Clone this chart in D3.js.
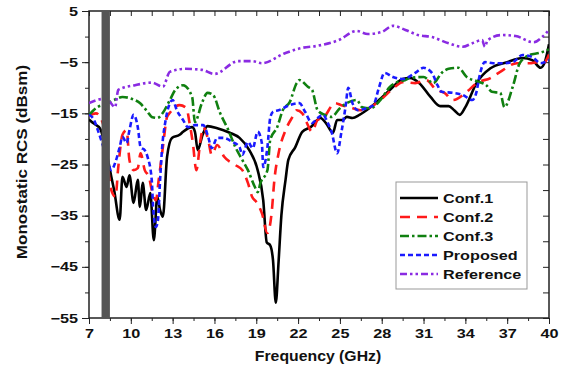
<!DOCTYPE html>
<html>
<head>
<meta charset="utf-8">
<script src="https://cdn.jsdelivr.net/npm/d3@7"></script>
<style>
    html, body { margin: 0; padding: 0; background: #fff; }
    svg { display: block; font-family: "Liberation Sans", Arial, sans-serif; font-weight: bold; }
    .axis path, .axis line { stroke: #222; }
    .axis text { fill: #111; font-size: 12.5px; font-weight: bold; }
</style>
</head>
<body>
<svg id="chart" width="567" height="370"></svg>
<script>
// Monostatic RCS against frequency, one series per configuration
var conf1Freq = [7.0, 7.3, 7.8, 8.2, 8.6, 8.8, 9.2, 9.4, 9.7, 9.9, 10.2, 10.5, 10.65, 10.85, 11.1, 11.4, 11.65, 11.9, 12.1, 12.3, 12.6, 12.95, 13.5, 13.75, 14.4, 14.6, 14.8, 15.15, 15.5, 16.2, 17.1, 17.8, 18.5, 19.1, 19.5, 19.75, 20.0, 20.2, 20.4, 20.6, 20.8, 21.1, 21.3, 21.8, 22.3, 22.9, 23.6, 24.0, 24.5, 24.8, 25.2, 25.5, 25.9, 26.4, 27.1, 27.8, 28.6, 29.5, 30.0, 30.7, 31.5, 32.2, 32.8, 33.2, 33.6, 34.0, 34.8, 35.8, 37.0, 38.1, 38.8, 39.4, 39.7, 40.0];
var conf1Rcs = [-16.2, -16.9, -18.0, -22.0, -27.4, -30.0, -35.8, -27.4, -29.4, -27.1, -32.5, -28.0, -33.3, -28.6, -33.9, -30.6, -39.8, -31.3, -33.9, -35.2, -23.5, -19.8, -19.2, -18.6, -17.7, -18.6, -22.2, -19.2, -17.5, -17.9, -18.8, -19.8, -22.2, -26.1, -32.0, -40.2, -40.8, -43.7, -52.0, -44.0, -35.0, -28.0, -24.1, -21.6, -18.6, -17.7, -15.9, -16.9, -18.8, -16.3, -16.3, -15.7, -15.9, -15.3, -14.0, -12.4, -10.4, -8.3, -8.1, -9.1, -11.8, -13.6, -13.6, -14.4, -15.3, -13.8, -9.1, -6.2, -5.0, -4.2, -4.6, -6.1, -5.0, -1.5];

var conf2Freq = [7.0, 7.5, 8.0, 8.6, 8.9, 9.1, 9.4, 9.7, 9.9, 10.2, 10.5, 10.7, 11.0, 11.3, 11.5, 11.8, 12.0, 12.3, 12.6, 12.8, 13.5, 14.0, 14.2, 14.45, 14.7, 15.0, 15.2, 15.55, 15.8, 16.2, 16.7, 17.5, 18.0, 18.4, 18.7, 19.0, 19.4, 19.8, 20.1, 20.3, 20.6, 21.1, 21.6, 21.9, 22.3, 22.6, 23.0, 23.4, 23.8, 24.65, 25.1, 25.7, 26.5, 27.2, 27.9, 28.8, 29.5, 30.4, 31.2, 31.9, 32.5, 33.1, 34.1, 34.8, 35.8, 36.5, 37.7, 38.6, 39.2, 39.6, 40.0];
var conf2Rcs = [-15.5, -15.0, -17.0, -30.0, -31.3, -25.5, -19.2, -18.3, -24.1, -26.1, -25.7, -22.8, -26.1, -27.4, -30.0, -32.0, -28.0, -21.6, -15.7, -14.9, -13.4, -14.0, -16.7, -20.8, -26.1, -20.2, -17.7, -20.2, -23.1, -21.2, -23.5, -25.1, -26.1, -28.6, -31.3, -32.3, -34.5, -38.4, -34.5, -28.0, -22.8, -18.3, -15.7, -14.4, -15.0, -16.7, -18.6, -16.3, -15.9, -13.0, -13.4, -13.8, -14.4, -13.8, -12.4, -10.2, -8.9, -9.1, -8.5, -10.4, -11.0, -12.4, -10.8, -9.1, -8.1, -6.9, -5.2, -5.2, -5.0, -5.2, -3.5];

var conf3Freq = [7.0, 7.6, 8.2, 8.8, 9.4, 10.1, 10.65, 11.2, 11.5, 11.9, 12.3, 12.8, 13.2, 13.75, 14.4, 14.6, 15.1, 15.5, 15.9, 16.4, 17.0, 17.5, 18.0, 18.4, 18.9, 19.1, 19.3, 19.8, 20.0, 20.5, 20.9, 21.4, 21.9, 22.1, 22.7, 23.0, 23.4, 23.9, 24.4, 25.0, 25.5, 26.2, 26.6, 27.2, 27.9, 28.6, 29.1, 29.7, 30.0, 31.0, 31.7, 32.3, 32.8, 33.5, 34.1, 34.8, 35.5, 35.9, 36.5, 36.8, 37.4, 37.9, 38.6, 39.3, 40.0];
var conf3Rcs = [-15.3, -13.8, -13.2, -12.4, -11.8, -12.2, -13.0, -14.7, -15.7, -15.9, -14.9, -12.4, -10.4, -9.5, -11.8, -16.7, -13.0, -11.0, -11.4, -14.9, -18.3, -21.6, -24.1, -26.1, -29.4, -30.4, -28.6, -26.1, -20.2, -17.7, -14.4, -12.8, -9.1, -8.5, -9.8, -10.4, -14.4, -15.3, -15.7, -14.0, -13.0, -12.4, -13.8, -14.0, -12.4, -9.8, -8.9, -8.5, -8.1, -7.9, -9.1, -7.1, -6.3, -6.1, -7.9, -8.7, -9.5, -10.8, -11.0, -13.8, -9.8, -5.2, -3.6, -3.2, -2.5];

var proposedFreq = [7.0, 7.3, 7.7, 8.2, 8.6, 8.9, 9.2, 9.4, 9.7, 9.9, 10.2, 10.5, 10.7, 11.0, 11.2, 11.5, 11.6, 11.8, 11.95, 12.1, 12.25, 12.5, 12.7, 13.0, 13.3, 13.75, 14.1, 14.6, 15.2, 15.55, 15.8, 16.2, 16.6, 17.3, 17.8, 18.0, 18.4, 18.75, 19.1, 19.4, 19.5, 19.8, 20.0, 20.2, 20.6, 21.4, 22.1, 22.5, 23.0, 23.4, 23.8, 24.1, 24.4, 24.8, 25.1, 25.4, 25.6, 25.9, 26.3, 26.9, 27.4, 27.8, 28.2, 28.8, 29.5, 30.4, 31.0, 31.6, 32.0, 32.3, 33.1, 33.8, 34.5, 34.8, 35.0, 35.4, 36.0, 36.7, 37.4, 38.1, 38.8, 39.4, 40.0];
var proposedRcs = [-15.3, -16.0, -18.8, -23.0, -26.1, -24.5, -21.6, -19.6, -20.8, -18.3, -15.3, -17.7, -21.6, -22.2, -23.5, -28.0, -33.3, -37.2, -35.8, -28.0, -21.6, -16.3, -13.8, -12.4, -14.4, -16.3, -17.7, -17.3, -17.3, -19.6, -21.8, -19.8, -19.8, -20.6, -21.6, -23.1, -20.6, -21.8, -18.6, -20.8, -25.5, -21.6, -15.9, -14.7, -14.4, -13.4, -13.0, -14.7, -16.9, -15.9, -15.3, -16.7, -18.6, -22.8, -18.8, -13.8, -10.0, -13.0, -14.4, -14.0, -13.4, -10.0, -7.1, -7.9, -8.3, -7.1, -6.1, -7.1, -9.5, -10.8, -11.0, -11.4, -12.4, -10.8, -7.9, -5.0, -5.2, -5.2, -5.0, -3.6, -4.0, -5.2, -4.6];

var referenceFreq = [7.0, 8.0, 8.5, 8.87, 9.1, 10.3, 11.5, 12.3, 12.8, 13.9, 15.1, 16.0, 17.7, 18.7, 19.4, 21.1, 22.3, 23.4, 24.9, 26.2, 27.0, 28.0, 28.8, 29.7, 30.6, 31.6, 32.8, 33.8, 34.5, 35.2, 35.4, 35.6, 36.6, 37.6, 38.9, 39.5, 40.0];
var referenceRcs = [-13.0, -12.2, -12.8, -13.8, -10.4, -9.5, -9.0, -9.8, -6.9, -6.3, -6.5, -7.3, -4.8, -4.8, -5.2, -3.2, -2.2, -1.8, -0.7, 1.1, 0.5, 0.9, 2.1, 1.3, 0.3, -0.1, -1.3, -2.0, -1.3, -0.7, -2.0, -0.7, 0.3, 0.1, -1.1, -0.1, 1.3];

var seriesNames = ["Conf.1", "Conf.2", "Conf.3", "Proposed", "Reference"];
var seriesColors = ["#000000", "#ff1a1a", "#108010", "#1a1aff", "#8a2be2"];
var seriesDashes = [null, "10,7", "9,3,2.5,3", "5,3", "7,3,2.5,3,2.5,3"];

var xTicks = [7, 10, 13, 16, 19, 22, 25, 28, 31, 34, 37, 40];
var yTicks = [5, -5, -15, -25, -35, -45, -55];
var shadedBand = [7.9, 8.5];

var svg = d3.select("#chart");
var margin = { left: 89, right: 18, top: 11, bottom: 52 };
var width = 567 - margin.left - margin.right;
var height = 370 - margin.top - margin.bottom;

var x = d3.scaleLinear().domain([7, 40]).range([0, width]);
var y = d3.scaleLinear().domain([-55, 5]).range([height, 0]);

var g = svg.append("g").attr("transform", "translate(" + margin.left + "," + margin.top + ")");

svg.append("defs").append("clipPath").attr("id", "plot-clip")
    .append("rect").attr("width", width).attr("height", height);

var minorX = d3.range(7, 40.01, 1.5);
var minorY = d3.range(-55, 5.01, 5);

// frame ticks: top and right point inward, all the same length
g.append("g").attr("class", "axis")
    .call(d3.axisTop(x).tickValues(minorX).tickSize(-5).tickFormat(""));
g.append("g").attr("class", "axis")
    .attr("transform", "translate(" + width + ",0)")
    .call(d3.axisRight(y).tickValues(minorY).tickSize(-6).tickFormat(""));

// minor ticks outward on left and bottom
g.append("g").attr("class", "axis")
    .attr("transform", "translate(0," + height + ")")
    .call(d3.axisBottom(x).tickValues(minorX).tickSize(3).tickFormat(""));
g.append("g").attr("class", "axis")
    .call(d3.axisLeft(y).tickValues(minorY).tickSize(4).tickFormat(""));

var xAxis = g.append("g").attr("class", "axis")
    .attr("transform", "translate(0," + height + ")")
    .call(d3.axisBottom(x).tickValues(xTicks).tickSize(6).tickPadding(5).tickFormat(d3.format("d")));
var yAxis = g.append("g").attr("class", "axis")
    .call(d3.axisLeft(y).tickValues(yTicks).tickSize(7).tickPadding(3).tickFormat(d3.format("d")));

// the labels are drawn wide, so stretch them horizontally
xAxis.selectAll("text").attr("transform", "scale(1.3,1)");
yAxis.selectAll("text").attr("transform", "scale(1.3,1)").attr("x", -8.5);

g.selectAll(".axis path.domain").remove();

// plot frame
g.append("rect")
    .attr("width", width).attr("height", height)
    .attr("fill", "none").attr("stroke", "#222").attr("stroke-width", 1.5);

var allSeries = [
    { f: conf1Freq, v: conf1Rcs },
    { f: conf2Freq, v: conf2Rcs },
    { f: conf3Freq, v: conf3Rcs },
    { f: proposedFreq, v: proposedRcs },
    { f: referenceFreq, v: referenceRcs }
].map(function(s, i) {
    return {
        name: seriesNames[i],
        color: seriesColors[i],
        dash: seriesDashes[i],
        points: s.f.map(function(f, j) { return [f, s.v[j]]; })
    };
});

var line = d3.line()
    .x(function(d) { return x(d[0]); })
    .y(function(d) { return y(d[1]); })
    .curve(d3.curveMonotoneX);

g.append("g").attr("clip-path", "url(#plot-clip)")
    .selectAll("path")
    .data(allSeries)
    .enter().append("path")
    .attr("d", function(d) { return line(d.points); })
    .attr("fill", "none")
    .attr("stroke", function(d) { return d.color; })
    .attr("stroke-width", 2.6)
    .attr("stroke-linejoin", "round")
    .attr("stroke-dasharray", function(d) { return d.dash; });

// shaded band drawn over the curves
g.append("rect")
    .attr("x", x(shadedBand[0]))
    .attr("width", x(shadedBand[1]) - x(shadedBand[0]))
    .attr("y", 0).attr("height", height)
    .attr("fill", "#555");

// axis titles
svg.append("text")
    .attr("transform", "translate(318,361) scale(1.13,1)")
    .attr("text-anchor", "middle")
    .attr("font-size", 14)
    .attr("fill", "#111")
    .text("Frequency (GHz)");

svg.append("text")
    .attr("transform", "translate(27,162) rotate(-90) scale(1.22,1)")
    .attr("text-anchor", "middle")
    .attr("font-size", 14)
    .attr("fill", "#111")
    .text("Monostatic RCS (dBsm)");

// legend
var legend = svg.append("g").attr("transform", "translate(396,182)");
legend.append("rect")
    .attr("width", 131).attr("height", 107)
    .attr("fill", "#fff").attr("stroke", "#999").attr("stroke-width", 1);

var items = legend.selectAll(".item")
    .data(allSeries)
    .enter().append("g")
    .attr("class", "item")
    .attr("transform", function(d, i) { return "translate(0," + (16 + i * 19) + ")"; });

items.append("line")
    .attr("x1", 4).attr("x2", 42)
    .attr("stroke", function(d) { return d.color; })
    .attr("stroke-width", 2.6)
    .attr("stroke-dasharray", function(d) { return d.dash; });

items.append("text")
    .attr("transform", "translate(47,5) scale(1.2,1)")
    .attr("font-size", 13.5)
    .attr("fill", "#111")
    .text(function(d) { return d.name; });
</script>
</body>
</html>
